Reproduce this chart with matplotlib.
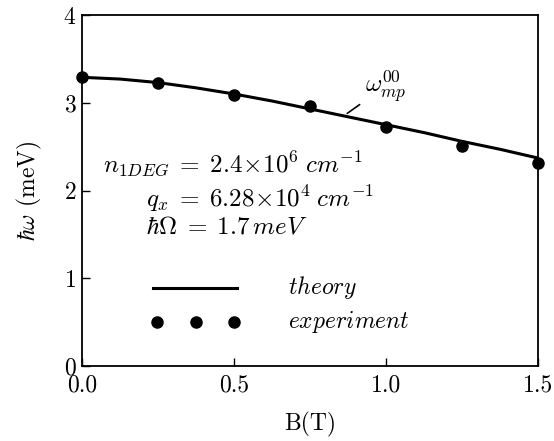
import numpy as np
import matplotlib
matplotlib.use("Agg")
import matplotlib.pyplot as plt

plt.rcParams['mathtext.fontset'] = 'cm'
plt.rcParams['font.family'] = 'serif'
plt.rcParams['font.serif'] = ['cmr10', 'DejaVu Serif']
plt.rcParams['axes.formatter.use_mathtext'] = True

# measured points (B in T, hbar*omega in meV)
b_exp = [0.0, 0.25, 0.5, 0.75, 1.0, 1.25, 1.5]
e_exp = [3.29, 3.22, 3.09, 2.96, 2.72, 2.51, 2.31]

# theory curve
b_th = [0.0, 0.125, 0.25, 0.375, 0.5, 0.625, 0.75, 0.875, 1.0, 1.125, 1.25, 1.375, 1.5]
e_th = [3.29, 3.27, 3.23, 3.17, 3.10, 3.02, 2.93, 2.84, 2.75, 2.66, 2.56, 2.47, 2.37]

xticks = [0.0, 0.5, 1.0, 1.5]
yticks = [0, 1, 2, 3, 4]

fig = plt.figure(figsize=(5.54, 4.41), dpi=100)
ax = fig.add_axes([0.148, 0.170, 0.823, 0.796])

ax.plot(b_th, e_th, color='black', lw=2.2)
ax.plot(b_exp, e_exp, 'o', color='black', ms=8, clip_on=False, zorder=5)

ax.set_xlim(0, 1.5)
ax.set_ylim(0, 4)
ax.set_xticks(xticks)
ax.set_xticklabels(['0.0', '0.5', '1.0', '1.5'])
ax.set_yticks(yticks)
ax.tick_params(direction='in', length=6, labelsize=17, width=1)
ax.tick_params(axis='x', pad=6)
ax.tick_params(axis='y', pad=4)
for s in ax.spines.values():
    s.set_linewidth(1.3)

ax.set_xlabel('B(T)', fontsize=17, labelpad=11)
ax.set_ylabel(r'$\hbar\omega$ (meV)', fontsize=17, labelpad=14)

# curve label with leader line
ax.annotate(r'$\omega_{mp}^{00}$', xy=(0.865, 2.86), xytext=(0.93, 2.98),
            fontsize=18, arrowprops=dict(arrowstyle='-', color='black', lw=1.2),
            va='bottom', ha='left')

ax.text(0.07, 2.30, r'$n_{1DEG}\;=\;2.4\!\times\!10^6\;cm^{-1}$', fontsize=18, va='center')
ax.text(0.212, 1.91, r'$q_x\;=\;6.28\!\times\!10^4\;cm^{-1}$', fontsize=18, va='center')
ax.text(0.209, 1.58, r'$\hbar\Omega\;=\;1.7\,meV$', fontsize=18, va='center')

# hand-made legend
ax.plot([0.235, 0.51], [0.89, 0.89], color='black', lw=2.2)
ax.plot([0.248, 0.375, 0.50], [0.50, 0.50, 0.50], 'o', color='black', ms=8, ls='none')
ax.text(0.677, 0.89, r'$theory$', fontsize=17, va='center')
ax.text(0.677, 0.50, r'$experiment$', fontsize=17, va='center')

fig.savefig('out.png', dpi=100)
